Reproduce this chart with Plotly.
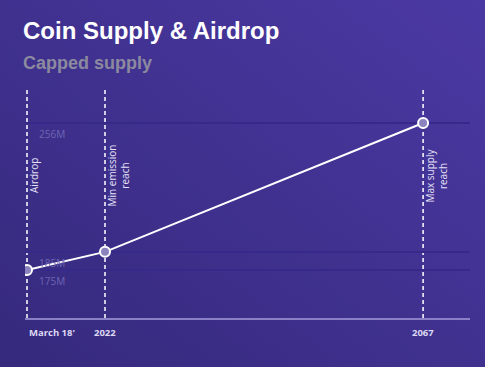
import plotly.graph_objects as go
import base64

# ---- data ----
milestone_dates = ["2018-03-01", "2022-01-01", "2067-01-01"]
milestone_ticks = ["March 18'", "2022", "2067"]
supply_millions = [175, 185, 256]
supply_labels = ["175M", "185M", "256M"]
milestone_events = ["Airdrop", "Min emission<br>reach", "Max supply<br>reach"]

W, H = 485, 367

svg = f'''<svg xmlns="http://www.w3.org/2000/svg" width="{W}" height="{H}" viewBox="0 0 {W} {H}" preserveAspectRatio="none">
<defs><linearGradient id="g" x1="0" y1="1" x2="1" y2="0">
<stop offset="0" stop-color="#35297c"/><stop offset="1" stop-color="#4b39a3"/></linearGradient></defs>
<rect width="{W}" height="{H}" fill="url(#g)"/></svg>'''
bg_uri = "data:image/svg+xml;base64," + base64.b64encode(svg.encode()).decode()

fig = go.Figure()
fig.add_trace(go.Scatter(
    x=milestone_dates, y=supply_millions, mode="lines+markers",
    line=dict(color="white", width=2),
    marker=dict(size=10, color="#8b83bd", line=dict(color="white", width=2)),
    hoverinfo="skip", showlegend=False,
))

# vertical dashed milestone lines
for d in milestone_dates:
    fig.add_shape(type="line", xref="x", yref="paper", x0=d, x1=d, y0=0, y1=1,
                  line=dict(color="white", width=1.5, dash="4px,3px"), layer="below")

# rotated event labels
for d, ev in zip(milestone_dates, milestone_events):
    fig.add_annotation(x=d, y=0.623, xref="x", yref="paper", text=ev, textangle=-90,
                       showarrow=False, xanchor="left", yanchor="middle", xshift=-2,
                       font=dict(family="Open Sans, sans-serif", size=10, color="#e6e2f7"))

# x tick labels
for i, (d, t) in enumerate(zip(milestone_dates, milestone_ticks)):
    fig.add_annotation(x=d, y=0, xref="x", yref="paper", text=f"<b>{t}</b>",
                       showarrow=False, xanchor="left" if i == 0 else "center",
                       yanchor="top", yshift=-6,
                       font=dict(family="Open Sans, sans-serif", size=9.5, color="#dcd8f3"))

# y labels below gridlines
for v, lab in zip(supply_millions, supply_labels):
    fig.add_annotation(x=0.027, y=v, xref="paper", yref="y", text=lab, showarrow=False,
                       xanchor="left", yanchor="top", yshift=-2,
                       font=dict(family="Open Sans, sans-serif", size=10, color="#6f66b3"))

# title & subtitle
fig.add_annotation(x=-0.009, y=1.263, xref="paper", yref="paper",
                   text="<b>Coin Supply & Airdrop</b>", showarrow=False,
                   xanchor="left", yanchor="middle",
                   font=dict(family="Liberation Sans, Arial, sans-serif", size=24, color="white"))
fig.add_annotation(x=-0.009, y=1.118, xref="paper", yref="paper",
                   text="<b>Capped supply</b>", showarrow=False,
                   xanchor="left", yanchor="middle",
                   font=dict(family="Liberation Sans, Arial, sans-serif", size=18, color="#8c8a9f"))

fig.update_layout(
    width=W, height=H,
    margin=dict(l=25, r=15, t=90, b=49),
    paper_bgcolor="#402f90", plot_bgcolor="rgba(0,0,0,0)",
    images=[dict(source=bg_uri, xref="paper", yref="paper", x=-25/445, y=1 + 90/228,
                 sizex=W/445, sizey=H/228, xanchor="left", yanchor="top",
                 sizing="stretch", layer="below")],
    xaxis=dict(type="date", range=["2018-01-24", "2069-04-23"],
               rangebreaks=[dict(bounds=["2030-01-01", "2059-05-07"])],
               showgrid=False, zeroline=False, showticklabels=False, ticks="",
               showline=True, linecolor="#8a80c6", linewidth=2),
    yaxis=dict(range=[148.55, 274.18], tickvals=supply_millions, showticklabels=False,
               showgrid=True, gridcolor="#36298a", gridwidth=2, zeroline=False,
               showline=False, ticks=""),
)

fig.write_html("out.html", config={"displayModeBar": False},
               post_script="document.body.style.margin='0';document.body.style.overflow='hidden';")
